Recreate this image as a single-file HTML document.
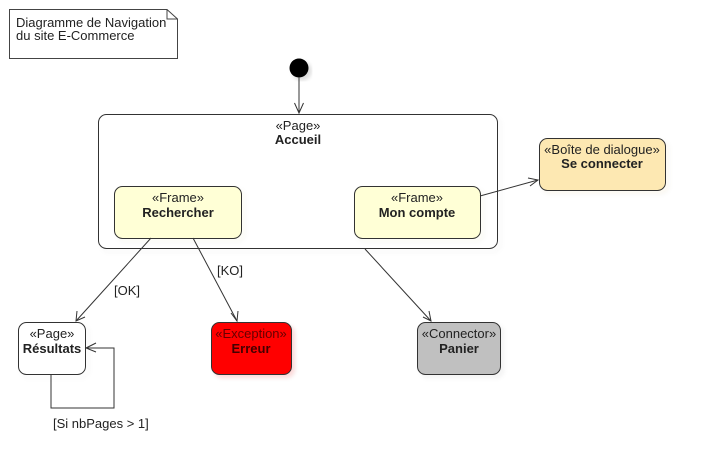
<!DOCTYPE html>
<html><head><meta charset="utf-8"><style>
html,body{margin:0;padding:0;background:#fff;}
svg text{font-family:"Liberation Sans",sans-serif;font-size:13px;fill:#222;}
</style></head><body>
<svg width="706" height="470" xmlns="http://www.w3.org/2000/svg">
<defs><filter id="sh" x="-10%" y="-10%" width="130%" height="130%"><feOffset dx="3" dy="3"/><feGaussianBlur stdDeviation="2"/><feComponentTransfer><feFuncA type="linear" slope="0.15"/></feComponentTransfer><feMerge><feMergeNode/><feMergeNode in="SourceGraphic"/></feMerge></filter></defs>
<!-- note -->
<path d="M9.5,9.5 H167 L177.5,19 V58.5 H9.5 Z" fill="#fff" stroke="#444" stroke-width="1"/>
<path d="M167,9.5 V19 H177.5" fill="none" stroke="#444"/>
<text x="16" y="27">Diagramme de Navigation</text>
<text x="16" y="40">du site E-Commerce</text>
<!-- initial -->
<circle cx="299" cy="68" r="9.5" fill="#000" filter="url(#sh)"/>
<g stroke="#333" fill="none" stroke-width="1">
<line x1="299" y1="77" x2="299" y2="113"/>
<polyline points="294.5,103 299,113 303.5,103"/>
</g>
<!-- Accueil -->
<rect x="98.5" y="114.5" width="399" height="134" rx="8" fill="#fff" stroke="#333" filter="url(#sh)"/>
<text x="298" y="130" text-anchor="middle">«Page»</text>
<text x="298" y="144" text-anchor="middle" font-weight="bold">Accueil</text>
<!-- Rechercher -->
<rect x="114.5" y="186.5" width="127" height="52" rx="8" fill="#ffffd6" stroke="#333" filter="url(#sh)"/>
<text x="178" y="202" text-anchor="middle">«Frame»</text>
<text x="178" y="217" text-anchor="middle" font-weight="bold">Rechercher</text>
<!-- Mon compte -->
<rect x="354.5" y="186.5" width="126" height="52" rx="8" fill="#ffffd6" stroke="#333" filter="url(#sh)"/>
<text x="417" y="202" text-anchor="middle">«Frame»</text>
<text x="417" y="217" text-anchor="middle" font-weight="bold">Mon compte</text>
<!-- Se connecter -->
<rect x="539.5" y="138.5" width="126" height="52" rx="8" fill="#fde8b2" stroke="#333" filter="url(#sh)"/>
<text x="602" y="154" text-anchor="middle">«Boîte de dialogue»</text>
<text x="602" y="168" text-anchor="middle" font-weight="bold">Se connecter</text>
<!-- Résultats -->
<rect x="18.5" y="322.5" width="67" height="52" rx="8" fill="#fff" stroke="#333" filter="url(#sh)"/>
<text x="52" y="338" text-anchor="middle">«Page»</text>
<text x="52" y="353" text-anchor="middle" font-weight="bold">Résultats</text>
<!-- Erreur -->
<rect x="211.5" y="322.5" width="80" height="52" rx="8" fill="#ff0000" stroke="#333" filter="url(#sh)"/>
<text x="251" y="338" text-anchor="middle" style="fill:#600">«Exception»</text>
<text x="251" y="353" text-anchor="middle" font-weight="bold" style="fill:#400">Erreur</text>
<!-- Panier -->
<rect x="417.5" y="322.5" width="83" height="52" rx="8" fill="#c0c0c0" stroke="#333" filter="url(#sh)"/>
<text x="459" y="338" text-anchor="middle">«Connector»</text>
<text x="459" y="353" text-anchor="middle" font-weight="bold">Panier</text>
<!-- arrows -->
<g stroke="#333" fill="none" stroke-width="1">
<line x1="480" y1="196" x2="538" y2="180"/>
<polyline points="528,178 538,180 530,186"/>
<line x1="151" y1="238" x2="76" y2="321"/>
<polyline points="77,311 76,321 85,317"/>
<line x1="193" y1="238" x2="237" y2="321"/>
<polyline points="231,313 237,321 238,311"/>
<line x1="365" y1="249" x2="431" y2="321"/>
<polyline points="423,317 431,321 429,311"/>
<polyline points="51,375 51,408 114,408 114,348 86,348"/>
<polyline points="96,343 86,348 96,352"/>
</g>
<text x="114" y="295">[OK]</text>
<text x="217" y="275">[KO]</text>
<text x="53" y="428">[Si nbPages &gt; 1]</text>
</svg>
</body></html>
